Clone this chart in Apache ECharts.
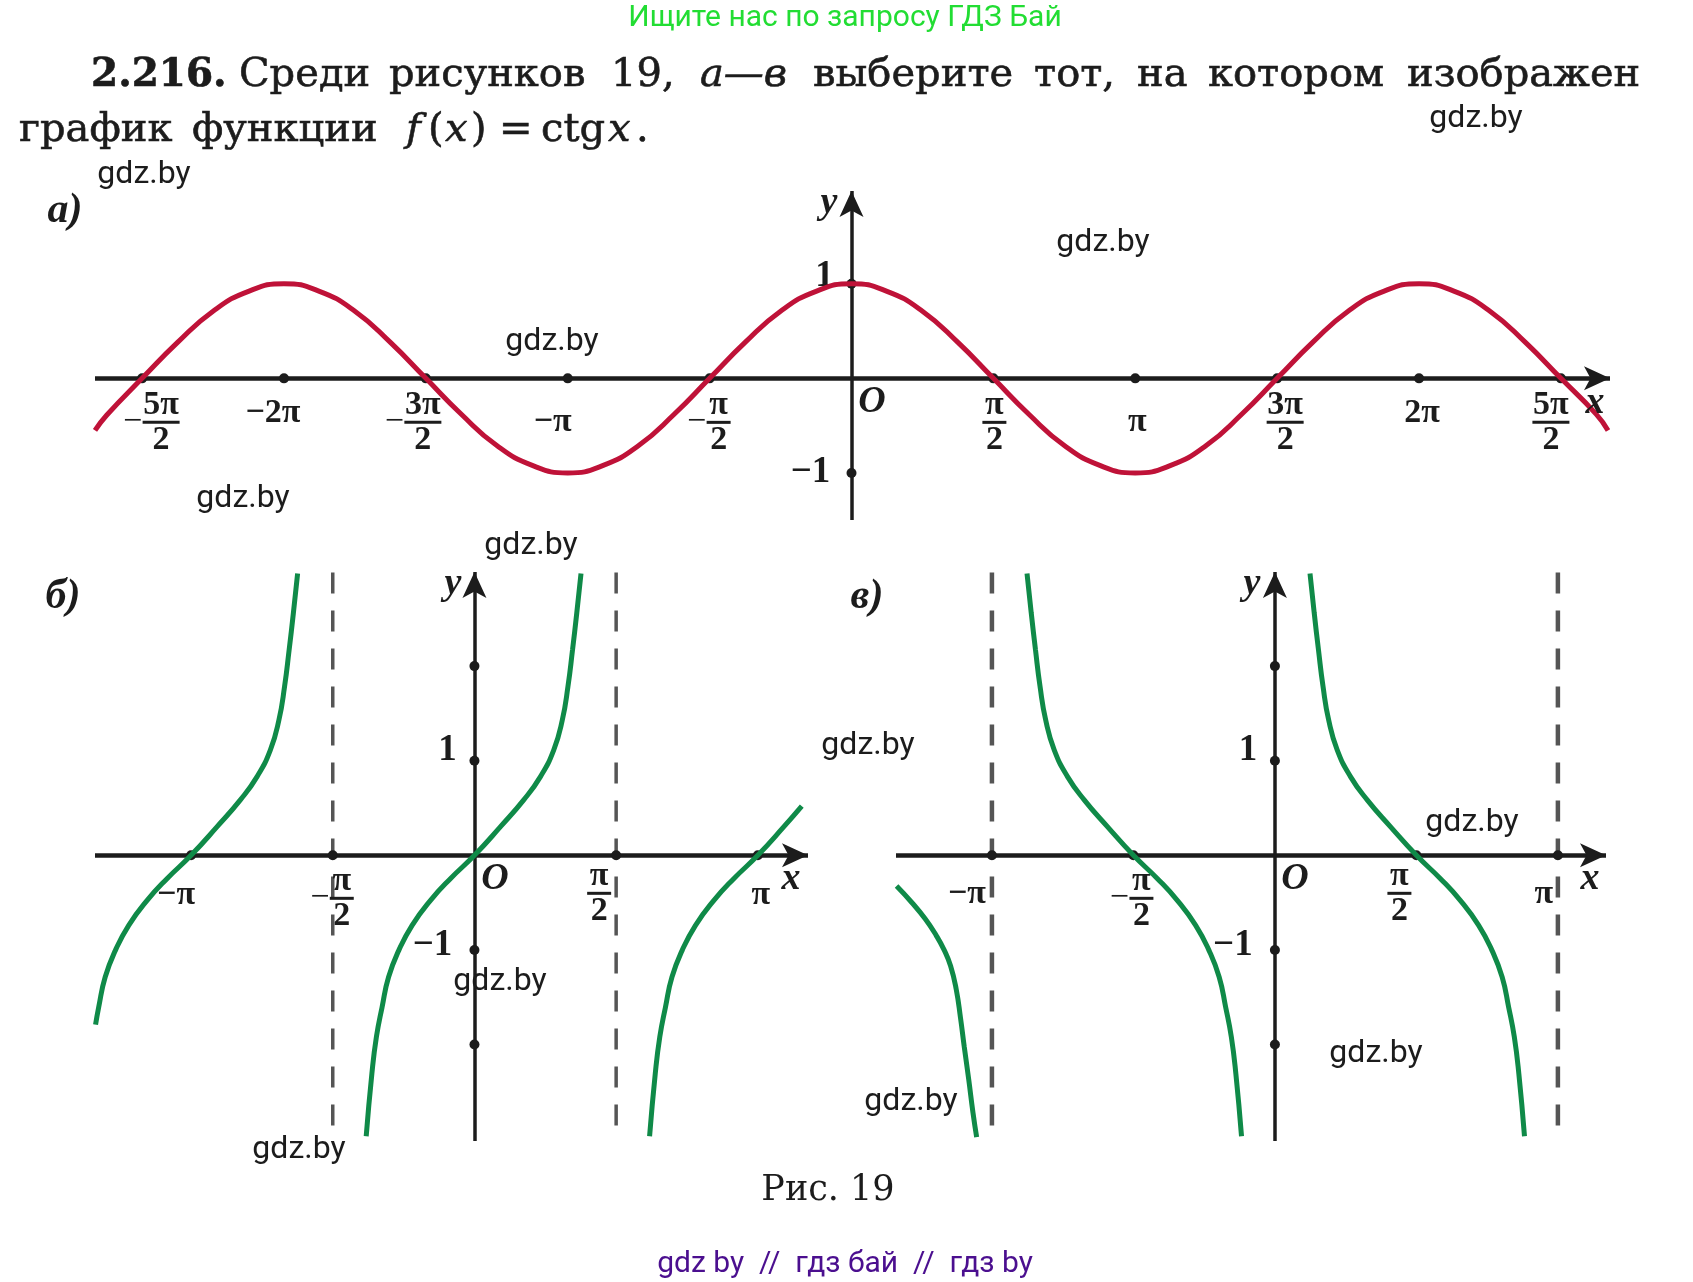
<!DOCTYPE html>
<html>
<head>
<meta charset="utf-8">
<style>html,body{margin:0;background:#fff}#main{width:1693px;height:1282px}</style>
<script src="https://cdn.jsdelivr.net/npm/echarts@6/dist/echarts.min.js"></script>
</head>
<body>
<div id="main"></div>
<script>
// x is in units of pi everywhere
var aXTicks = [-2.5, -2, -1.5, -1, -0.5, 0.5, 1, 1.5, 2, 2.5];
var aXLabels = ['−5π/2', '−2π', '−3π/2', '−π', '−π/2', 'π/2', 'π', '3π/2', '2π', '5π/2'];
var aYTicks = [1, -1];
var aYLabels = ['1', '−1'];
var bcXTicks = [-1, -0.5, 0.5, 1];
var bcXLabels = ['−π', '−π/2', 'π/2', 'π'];
var bcYTicks = [2, 1, -1, -2];
var bcYLabels = ['', '1', '−1', ''];

var aCurveX = [-2.666, -2.625, -2.5, -2.375, -2.25, -2.125, -2, -1.875, -1.75, -1.625, -1.5, -1.375, -1.25, -1.125, -1, -0.875, -0.75, -0.625, -0.5, -0.375, -0.25, -0.125, 0, 0.125, 0.25, 0.375, 0.5, 0.625, 0.75, 0.875, 1, 1.125, 1.25, 1.375, 1.5, 1.625, 1.75, 1.875, 2, 2.125, 2.25, 2.375, 2.5, 2.625, 2.666];
var aCurveY = [-0.55, -0.39, 0, 0.38, 0.71, 0.92, 1, 0.92, 0.71, 0.38, 0, -0.38, -0.71, -0.92, -1, -0.92, -0.71, -0.38, 0, 0.38, 0.71, 0.92, 1, 0.92, 0.71, 0.38, 0, -0.38, -0.71, -0.92, -1, -0.92, -0.71, -0.38, 0, 0.38, 0.71, 0.92, 1, 0.92, 0.71, 0.38, 0, -0.38, -0.55];

var bBranch1X = [-1.337, -1.326, -1.303, -1.267, -1.22, -1.155, -1.085, -1, -0.908, -0.826, -0.767, -0.72, -0.69, -0.67, -0.654, -0.639, -0.624];
var bBranch1Y = [-1.79, -1.605, -1.287, -1.005, -0.74, -0.476, -0.247, 0, 0.303, 0.586, 0.832, 1.115, 1.43, 1.785, 2.17, 2.56, 2.98];
var bBranch2X = [-0.382, -0.362, -0.346, -0.326, -0.303, -0.267, -0.22, -0.155, -0.085, 0, 0.092, 0.174, 0.233, 0.28, 0.31, 0.33, 0.346, 0.361, 0.376];
var bBranch2Y = [-2.97, -2.31, -1.92, -1.605, -1.287, -1.005, -0.74, -0.476, -0.247, 0, 0.303, 0.586, 0.832, 1.115, 1.43, 1.785, 2.17, 2.56, 2.98];
var bBranch3X = [0.618, 0.638, 0.654, 0.674, 0.697, 0.733, 0.78, 0.845, 0.915, 1, 1.092, 1.155];
var bBranch3Y = [-2.97, -2.31, -1.92, -1.605, -1.287, -1.005, -0.74, -0.476, -0.247, 0, 0.303, 0.52];

var cBranch1X = [-1.337, -1.284, -1.236, -1.197, -1.169, -1.146, -1.126, -1.111, -1.098, -1.082, -1.067, -1.054];
var cBranch1Y = [-0.325, -0.496, -0.671, -0.846, -1, -1.17, -1.42, -1.72, -2.02, -2.37, -2.72, -2.98];
var cBranch2X = [-0.876, -0.861, -0.846, -0.83, -0.81, -0.78, -0.733, -0.674, -0.592, -0.5, -0.415, -0.345, -0.28, -0.233, -0.197, -0.174, -0.154, -0.138, -0.118];
var cBranch2Y = [2.98, 2.56, 2.17, 1.785, 1.43, 1.115, 0.832, 0.586, 0.303, 0, -0.247, -0.476, -0.74, -1.005, -1.287, -1.605, -1.92, -2.31, -2.97];
var cBranch3X = [0.124, 0.139, 0.154, 0.17, 0.19, 0.22, 0.267, 0.326, 0.408, 0.5, 0.585, 0.655, 0.72, 0.767, 0.803, 0.826, 0.846, 0.862, 0.882];
var cBranch3Y = [2.98, 2.56, 2.17, 1.785, 1.43, 1.115, 0.832, 0.586, 0.303, 0, -0.247, -0.476, -0.74, -1.005, -1.287, -1.605, -1.92, -2.31, -2.97];

var bAsymptotes = [-0.5, 0.5];
var cAsymptotes = [-1, 1];
var asymptoteY = [2.99, -2.86];

var INK = '#1c1c1c';
var SERIF = 'Liberation Serif';
var WIDE = '"DejaVu Serif"';

function zip(xs, ys) {
  return xs.map(function (x, i) { return [x, ys[i]]; });
}

// labels like −5π/2 become a stacked fraction
function fraction(text) {
  var neg = text.charAt(0) === '−';
  var parts = (neg ? text.slice(1) : text).split('/');
  if (parts.length < 2) return '{t|' + text + '}';
  var wide = parts[0].length > 1 ? 'W' : 'N';
  var pad = neg ? '{sp|}' : '';
  return pad + '{num' + wide + '|' + parts[0] + '}\n' +
    (neg ? '{minus|−}' : '') + '{bar' + wide + '|}\n' +
    pad + '{den' + wide + '|' + parts[1] + '}';
}

function fracText(width) {
  return { width: width, align: 'center', fontFamily: SERIF, fontWeight: 'bold', fontSize: 34, color: INK, lineHeight: 32 };
}

var fracRich = {
  t: { fontFamily: SERIF, fontWeight: 'bold', fontSize: 34, color: INK },
  sp: { width: 20, height: 3 },
  minus: { width: 20, align: 'center', fontFamily: SERIF, fontSize: 34, color: INK, height: 3, lineHeight: 3 },
  numW: fracText(37),
  numN: fracText(24),
  denW: fracText(37),
  denN: fracText(24),
  barW: { width: 37, height: 3, lineHeight: 3, backgroundColor: INK },
  barN: { width: 24, height: 3, lineHeight: 3, backgroundColor: INK }
};

function grid(left, right, top, bottom) {
  return { left: left, top: top, width: right - left, height: bottom - top };
}

function axis(i, min, max, width) {
  return {
    gridIndex: i, type: 'value', min: min, max: max,
    splitLine: { show: false }, axisTick: { show: false }, axisLabel: { show: false },
    axisLine: { onZero: true, lineStyle: { color: INK, width: width, cap: 'butt' }, symbol: ['none', 'arrow'], symbolSize: [18, 26] }
  };
}

function curve(i, data, color, width) {
  return {
    type: 'line', xAxisIndex: i, yAxisIndex: i, data: data, smooth: true, showSymbol: false, z: 5,
    silent: true, lineStyle: { color: color, width: width, cap: 'butt' }, clip: false
  };
}

function asymptote(i, x, width) {
  return {
    type: 'line', xAxisIndex: i, yAxisIndex: i, showSymbol: false, silent: true, z: 3,
    data: asymptoteY.map(function (y) { return [x, y]; }),
    lineStyle: { color: '#555', width: width, type: [21, 17] }
  };
}

function xDots(i, ticks, labels, offsets) {
  return {
    type: 'scatter', xAxisIndex: i, yAxisIndex: i, symbolSize: 10, z: 4, silent: true,
    itemStyle: { color: INK, opacity: 1 },
    data: ticks.map(function (v, k) {
      return {
        value: [v, 0],
        label: {
          show: true, position: 'inside', offset: offsets[k], color: INK,
          formatter: fraction(labels[k]), rich: fracRich
        }
      };
    })
  };
}

function yDots(i, ticks, labels, offsets) {
  return {
    type: 'scatter', xAxisIndex: i, yAxisIndex: i, symbolSize: 10, z: 4, silent: true,
    itemStyle: { color: INK, opacity: 1 },
    data: ticks.map(function (v, k) {
      return {
        value: [0, v],
        label: {
          show: labels[k] !== '', position: 'inside', offset: offsets[k],
          formatter: labels[k], color: INK, fontFamily: SERIF, fontWeight: 'bold', fontSize: 37
        }
      };
    })
  };
}

function text(str, x, y, font, fill, align, heavy) {
  var style = { text: str, x: x, y: y, font: font, fill: fill || INK, align: align || 'center', verticalAlign: 'middle' };
  if (heavy) { style.stroke = fill || INK; style.lineWidth = heavy; }
  return { type: 'text', silent: true, z: 20, style: style };
}

// label offsets in pixels, same order as the tick arrays
var aXOffsets = [[9, 44], [-11, 35], [-13, 44], [-15, 44], [-1, 44], [1, 44], [2, 44], [8, 44], [3, 35], [-10, 44]];
var aYOffsets = [[-27, -7], [-41, -1]];
var bXOffsets = [[-15, 40], [-1, 43], [-17, 38], [3, 40]];
var cXOffsets = [[-25, 39], [-2, 43], [-17, 38], [-14, 39]];
var bcYOffsets = [[0, 0], [-27, -10], [-42, -4], [0, 0]];

var graphics = [];
var WATERMARK = '32px Roboto';
[[1476, 119], [144, 175], [1103, 243], [552, 342], [243, 499], [531, 546], [868, 746], [500, 982], [1472, 823], [1376, 1054], [911, 1102], [299, 1150]].forEach(function (p) {
  graphics.push(text('gdz.by', p[0], p[1], WATERMARK));
});
graphics.push(text('Ищите нас по запросу ГДЗ Бай', 845, 18, '30px Roboto', '#22dd33'));
graphics.push(text('gdz by  //  гдз бай  //  гдз by', 845, 1264, '30px Roboto', '#4b0f8f'));
graphics.push(text('Рис. 19', 828, 1191, '35px ' + WIDE));

// title lines, word by word since the line is justified
var TITLE = '40px ' + WIDE;
[['2.216.', 91, 'bold 39px ' + WIDE], ['Среди', 239], ['рисунков', 389], ['19,', 611], ['а—в', 700, 'italic 40px ' + WIDE], ['выберите', 813], ['тот,', 1034], ['на', 1137], ['котором', 1208], ['изображен', 1407]].forEach(function (w) {
  graphics.push(text(w[0], w[1], 76, w[2] || TITLE, INK, 'left', 0.6));
});
[['график', 19], ['функции', 192], ['f', 406, 'italic 40px ' + WIDE], ['(', 428], ['x', 445, 'italic 40px ' + WIDE], [')', 471], ['=', 499], ['ctg', 541], ['x', 608, 'italic 40px ' + WIDE], ['.', 636]].forEach(function (w) {
  graphics.push(text(w[0], w[1], 131, w[2] || TITLE, INK, 'left', 0.6));
});

var NAME = 'italic bold 38px "' + SERIF + '"';
[['а)', 65, 211, 'italic bold 42px "' + SERIF + '"'], ['б)', 63, 597, 'italic bold 42px "' + SERIF + '"'], ['в)', 867, 597, 'italic bold 42px "' + SERIF + '"'],
 ['y', 829, 203], ['x', 1595, 403], ['O', 872, 402],
 ['y', 453, 584], ['x', 791, 879], ['O', 495, 879],
 ['y', 1252, 584], ['x', 1590, 879], ['O', 1295, 879]].forEach(function (n) {
  graphics.push(text(n[0], n[1], n[2], n[3] || NAME));
});

var chart = echarts.init(document.getElementById('main'), null, { renderer: 'canvas' });
chart.setOption({
  animation: false,
  backgroundColor: '#fff',
  graphic: { elements: graphics },
  grid: [grid(95, 1610, 191, 520), grid(95, 808, 572, 1141), grid(896, 1606, 572, 1141)],
  xAxis: [axis(0, -2.666, 2.673, 4.5), axis(1, -1.339, 1.177, 4.5), axis(2, -1.339, 1.17, 4.5)],
  yAxis: [axis(0, -1.497, 1.98, 3.5), axis(1, -3.02, 2.995, 3.5), axis(2, -3.02, 2.995, 3.5)],
  series: [
    curve(0, zip(aCurveX, aCurveY), '#bf1238', 5),
    xDots(0, aXTicks, aXLabels, aXOffsets),
    yDots(0, aYTicks, aYLabels, aYOffsets),

    asymptote(1, bAsymptotes[0], 3.5),
    asymptote(1, bAsymptotes[1], 3.5),
    curve(1, zip(bBranch1X, bBranch1Y), '#0f8a48', 5),
    curve(1, zip(bBranch2X, bBranch2Y), '#0f8a48', 5),
    curve(1, zip(bBranch3X, bBranch3Y), '#0f8a48', 5),
    xDots(1, bcXTicks, bcXLabels, bXOffsets),
    yDots(1, bcYTicks, bcYLabels, bcYOffsets),

    asymptote(2, cAsymptotes[0], 4.5),
    asymptote(2, cAsymptotes[1], 4.5),
    curve(2, zip(cBranch1X, cBranch1Y), '#0f8a48', 5),
    curve(2, zip(cBranch2X, cBranch2Y), '#0f8a48', 5),
    curve(2, zip(cBranch3X, cBranch3Y), '#0f8a48', 5),
    xDots(2, bcXTicks, bcXLabels, cXOffsets),
    yDots(2, bcYTicks, bcYLabels, bcYOffsets)
  ]
});
</script>
</body>
</html>
